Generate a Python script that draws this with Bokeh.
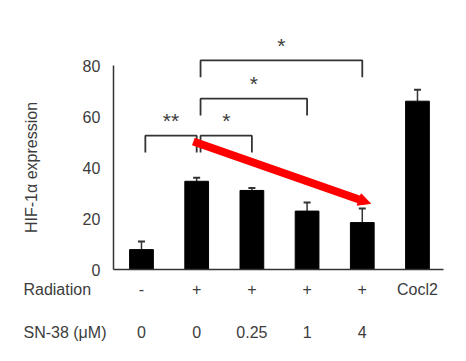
from bokeh.plotting import figure
from bokeh.models import Range1d, FixedTicker, LinearAxis, Whisker, TeeHead, Arrow, NormalHead, ColumnDataSource
from bokeh.core.properties import value
from bokeh.embed import file_html
from bokeh.resources import INLINE

# ---- data ----
radiation = ["-", "+", "+", "+", "+", "Cocl2"]
sn38 = ["0", "0", "0.25", "1", "4", ""]
values = [7.8, 34.6, 31.0, 22.9, 18.4, 66.0]
errors = [3.2, 1.4, 1.0, 3.4, 5.5, 4.5]
y_ticks = [0, 20, 40, 60, 80]
row_names = ["Radiation", "SN-38 (μM)"]

# significance comparisons: (from bar, to bar, label, bracket height)
cmp_from = [0, 1, 1, 1]
cmp_to = [1, 2, 3, 4]
cmp_label = ["**", "*", "*", "*"]
cmp_height = [52.5, 52.5, 67.0, 82.0]

# trend arrow (bar index space, value space)
arrow_start = (0.94, 50.2)
arrow_end = (4.15, 25.9)

FONT = "Liberation Sans"
TXT = "#3c3c3c"
LINE = "#333333"

x = list(range(len(values)))
x_left, x_right = -0.51, 5.47

p = figure(width=458, height=353, output_backend="svg", toolbar_location=None,
           x_range=Range1d(-2.554, 5.743), y_range=Range1d(-32.94, 105.49),
           min_border=0, min_border_left=0, min_border_right=0,
           min_border_top=0, min_border_bottom=0,
           x_axis_location=None, y_axis_location=None)
p.outline_line_color = None
p.grid.visible = False
p.background_fill_color = "white"

# y axis, drawn at the left edge of the bar area
ya = LinearAxis(fixed_location=x_left, ticker=FixedTicker(ticks=y_ticks), bounds=(0, 80))
ya.axis_line_color = LINE
ya.axis_line_width = 1.5
ya.major_tick_line_color = None
ya.minor_tick_line_color = None
ya.major_tick_out = 0
ya.major_tick_in = 0
ya.major_label_text_font = FONT
ya.major_label_text_font_size = "16px"
ya.major_label_text_color = TXT
ya.major_label_standoff = 13
ya.axis_label = "HIF-1α expression"
ya.axis_label_text_font = FONT
ya.axis_label_text_font_style = "normal"
ya.axis_label_text_font_size = "16px"
ya.axis_label_text_color = TXT
ya.axis_label_standoff = 40
p.add_layout(ya, "left")

# x baseline
xa = LinearAxis(fixed_location=0, ticker=FixedTicker(ticks=[]), bounds=(x_left, x_right))
xa.axis_line_color = LINE
xa.axis_line_width = 1.5
xa.major_tick_line_color = None
xa.minor_tick_line_color = None
xa.major_label_text_font_size = "0px"
p.add_layout(xa, "below")

# bars
src = ColumnDataSource(dict(x=x, top=values, upper=[v + e for v, e in zip(values, errors)]))
p.vbar(x="x", top="top", bottom=0, width=0.43, source=src, fill_color="black", line_color="black")
p.add_layout(Whisker(base="x", lower="top", upper="upper", source=src,
                     line_color=LINE, line_width=1.5,
                     upper_head=TeeHead(size=7, line_color=LINE, line_width=2),
                     lower_head=None))

# brackets
leg = 6.6
xs, ys, sx, sy = [], [], [], []
for a, b, h in zip(cmp_from, cmp_to, cmp_height):
    l, r = a + 0.07, b
    xs.append([l, l, r, r])
    ys.append([h - leg, h, h, h - leg])
    sx.append((l + r) / 2)
    sy.append(h + 6.7)
p.multi_line(xs=xs, ys=ys, line_color=LINE, line_width=1.8)
p.text(x=sx, y=sy, text=cmp_label, text_align="center", text_baseline="middle",
       text_font=value(FONT), text_font_size="21px", text_color=TXT, y_offset=2)

# arrow
p.add_layout(Arrow(x_start=arrow_start[0], y_start=arrow_start[1],
                   x_end=arrow_end[0], y_end=arrow_end[1],
                   line_color="#ff0000", line_width=8,
                   end=NormalHead(size=12, fill_color="#ff0000", line_color="#ff0000", line_width=1)))

# category rows
row_y = [-7.8, -24.7]
p.text(x=x, y=[row_y[0]] * len(x), text=radiation, text_align="center", text_baseline="middle",
       text_font=value(FONT), text_font_size="16px", text_color=TXT)
p.text(x=x, y=[row_y[1]] * len(x), text=sn38, text_align="center", text_baseline="middle",
       text_font=value(FONT), text_font_size="16px", text_color=TXT)
p.text(x=[-2.138, -2.138], y=row_y, text=row_names, text_align="left", text_baseline="middle",
       text_font=value(FONT), text_font_size="16px", text_color=TXT)

open("out.html", "w").write(file_html(p, INLINE))
